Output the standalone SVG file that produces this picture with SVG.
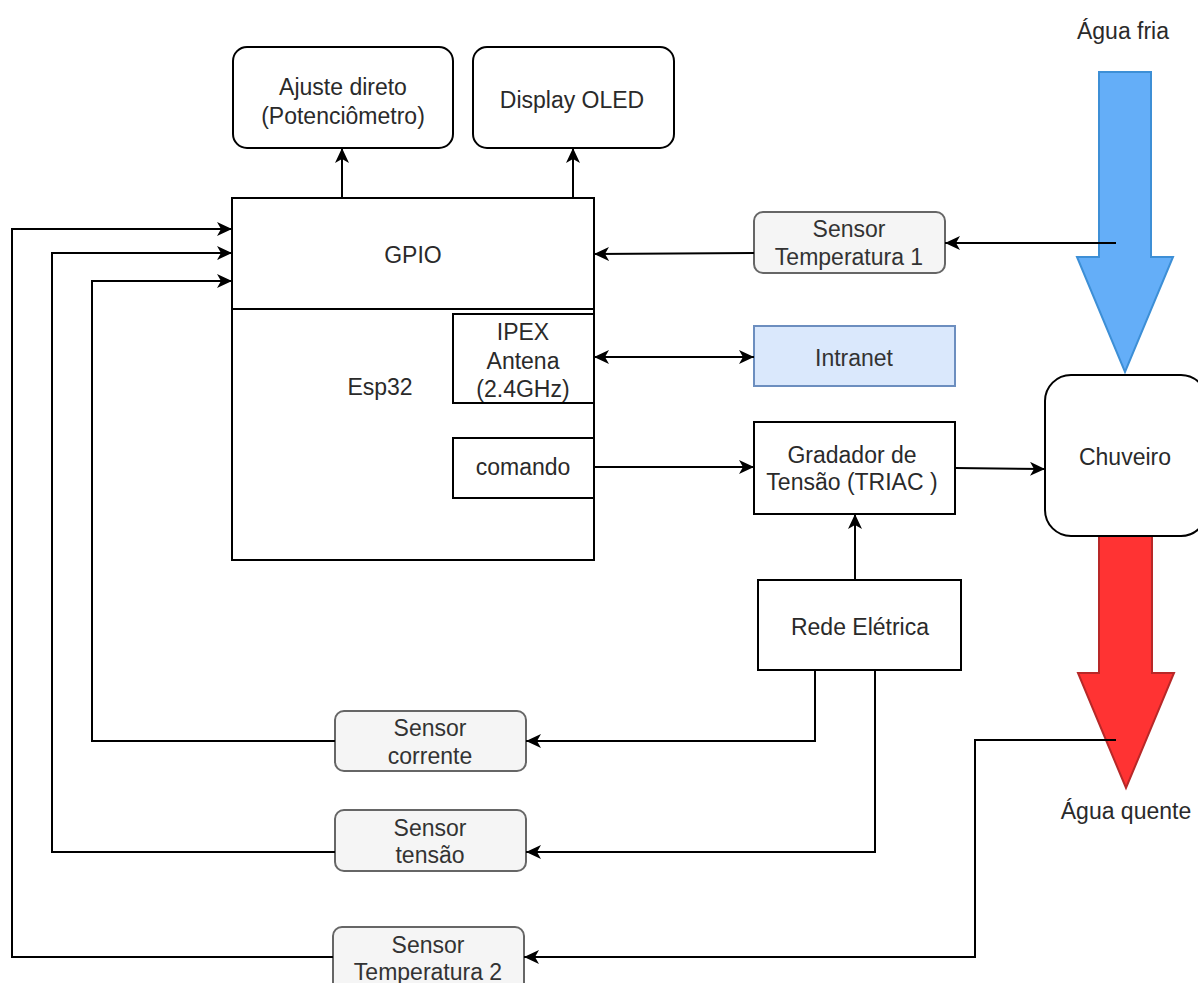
<svg xmlns="http://www.w3.org/2000/svg" width="1198" height="983" viewBox="0 0 1198 983">
<style>
.box{fill:#ffffff;stroke:#000000;stroke-width:2}
.sens{fill:#f5f5f5;stroke:#666666;stroke-width:2}
.t{font-family:"Liberation Sans",Arial,sans-serif;font-size:23px;fill:#2a2a2a;text-anchor:middle}
.ts{font-family:"Liberation Sans",Arial,sans-serif;font-size:23px;fill:#333333;text-anchor:middle}
.c{fill:none;stroke:#000000;stroke-width:2}
</style>
<defs>
<marker id="ah" markerUnits="userSpaceOnUse" markerWidth="18" markerHeight="16" refX="15" refY="7" orient="auto-start-reverse">
<path d="M0,0 L15,7 L0,14 L4,7 z" fill="#000000"/>
</marker>
</defs>
<rect width="1198" height="983" fill="#ffffff"/>

<g id="agua-fria">
<polygon points="1099,72 1151,72 1151,257 1173,257 1125,372 1077,257 1099,257" fill="#64aef8" stroke="#3d8fd6" stroke-width="2"/>
<text class="t" x="1123" y="39">Água fria</text>
</g>
<g id="agua-quente">
<polygon points="1099,535 1152,535 1152,673 1174,673 1126,788 1078,673 1099,673" fill="#ff3333" stroke="#b82828" stroke-width="2"/>
<text class="t" x="1126" y="819">Água quente</text>
</g>

<g id="ajuste">
<rect class="box" x="233" y="47" width="220" height="101" rx="14"/>
<text class="t" x="343" y="95">Ajuste direto</text>
<text class="t" x="343" y="124">(Potenciômetro)</text>
</g>
<g id="display">
<rect class="box" x="473" y="47" width="201" height="101" rx="14"/>
<text class="t" x="572" y="108">Display OLED</text>
</g>
<g id="esp32">
<rect class="box" x="232" y="309" width="362" height="251"/>
<text class="t" x="380" y="395">Esp32</text>
</g>
<g id="gpio">
<rect class="box" x="232" y="198" width="362" height="111"/>
<text class="t" x="413" y="263">GPIO</text>
</g>
<g id="ipex">
<rect class="box" x="453" y="314" width="141" height="89"/>
<text class="t" x="523" y="340">IPEX</text>
<text class="t" x="523" y="369">Antena</text>
<text class="t" x="523" y="397">(2.4GHz)</text>
</g>
<g id="comando">
<rect class="box" x="453" y="438" width="141" height="60"/>
<text class="t" x="523" y="475">comando</text>
</g>
<g id="sensor-t1">
<rect class="sens" x="754" y="212" width="191" height="61" rx="9"/>
<text class="ts" x="849" y="237">Sensor</text>
<text class="ts" x="849" y="265">Temperatura 1</text>
</g>
<g id="intranet">
<rect x="754" y="326" width="201" height="60" fill="#dae8fc" stroke="#6c8ebf" stroke-width="2"/>
<text class="ts" x="854" y="366">Intranet</text>
</g>
<g id="gradador">
<rect class="box" x="754" y="422" width="201" height="92"/>
<text class="t" x="852" y="463">Gradador de</text>
<text class="t" x="852" y="490">Tensão (TRIAC )</text>
</g>
<g id="chuveiro">
<rect class="box" x="1045" y="375" width="162" height="161" rx="26"/>
<text class="t" x="1125" y="465">Chuveiro</text>
</g>
<g id="rede">
<rect class="box" x="758" y="580" width="203" height="90"/>
<text class="t" x="860" y="635">Rede Elétrica</text>
</g>
<g id="sensor-corrente">
<rect class="sens" x="335" y="711" width="191" height="60" rx="9"/>
<text class="ts" x="430" y="736">Sensor</text>
<text class="ts" x="430" y="764">corrente</text>
</g>
<g id="sensor-tensao">
<rect class="sens" x="335" y="810" width="191" height="61" rx="9"/>
<text class="ts" x="430" y="836">Sensor</text>
<text class="ts" x="430" y="863">tensão</text>
</g>
<g id="sensor-t2">
<rect class="sens" x="333" y="927" width="191" height="64" rx="9"/>
<text class="ts" x="428" y="953">Sensor</text>
<text class="ts" x="428" y="980">Temperatura 2</text>
</g>

<g id="connectors">
<path class="c" d="M342,198 L342,148" marker-end="url(#ah)"/>
<path class="c" d="M573,198 L573,148" marker-end="url(#ah)"/>
<path class="c" d="M1116,243 L945,243" marker-end="url(#ah)"/>
<path class="c" d="M754,253 L594,254" marker-end="url(#ah)"/>
<path class="c" d="M594,357 L754,357" marker-start="url(#ah)" marker-end="url(#ah)"/>
<path class="c" d="M594,467 L754,467" marker-end="url(#ah)"/>
<path class="c" d="M955,468 L1045,469" marker-end="url(#ah)"/>
<path class="c" d="M855,580 L855,514" marker-end="url(#ah)"/>
<path class="c" d="M815,670 L815,741 L526,741" marker-end="url(#ah)"/>
<path class="c" d="M875,670 L875,852 L526,852" marker-end="url(#ah)"/>
<path class="c" d="M1116,740 L975,740 L975,957 L524,957" marker-end="url(#ah)"/>
<path class="c" d="M335,741 L92,741 L92,281 L232,281" marker-end="url(#ah)"/>
<path class="c" d="M335,852 L52,852 L52,253 L232,253" marker-end="url(#ah)"/>
<path class="c" d="M333,957 L12,957 L12,229 L232,229" marker-end="url(#ah)"/>
</g>
</svg>
